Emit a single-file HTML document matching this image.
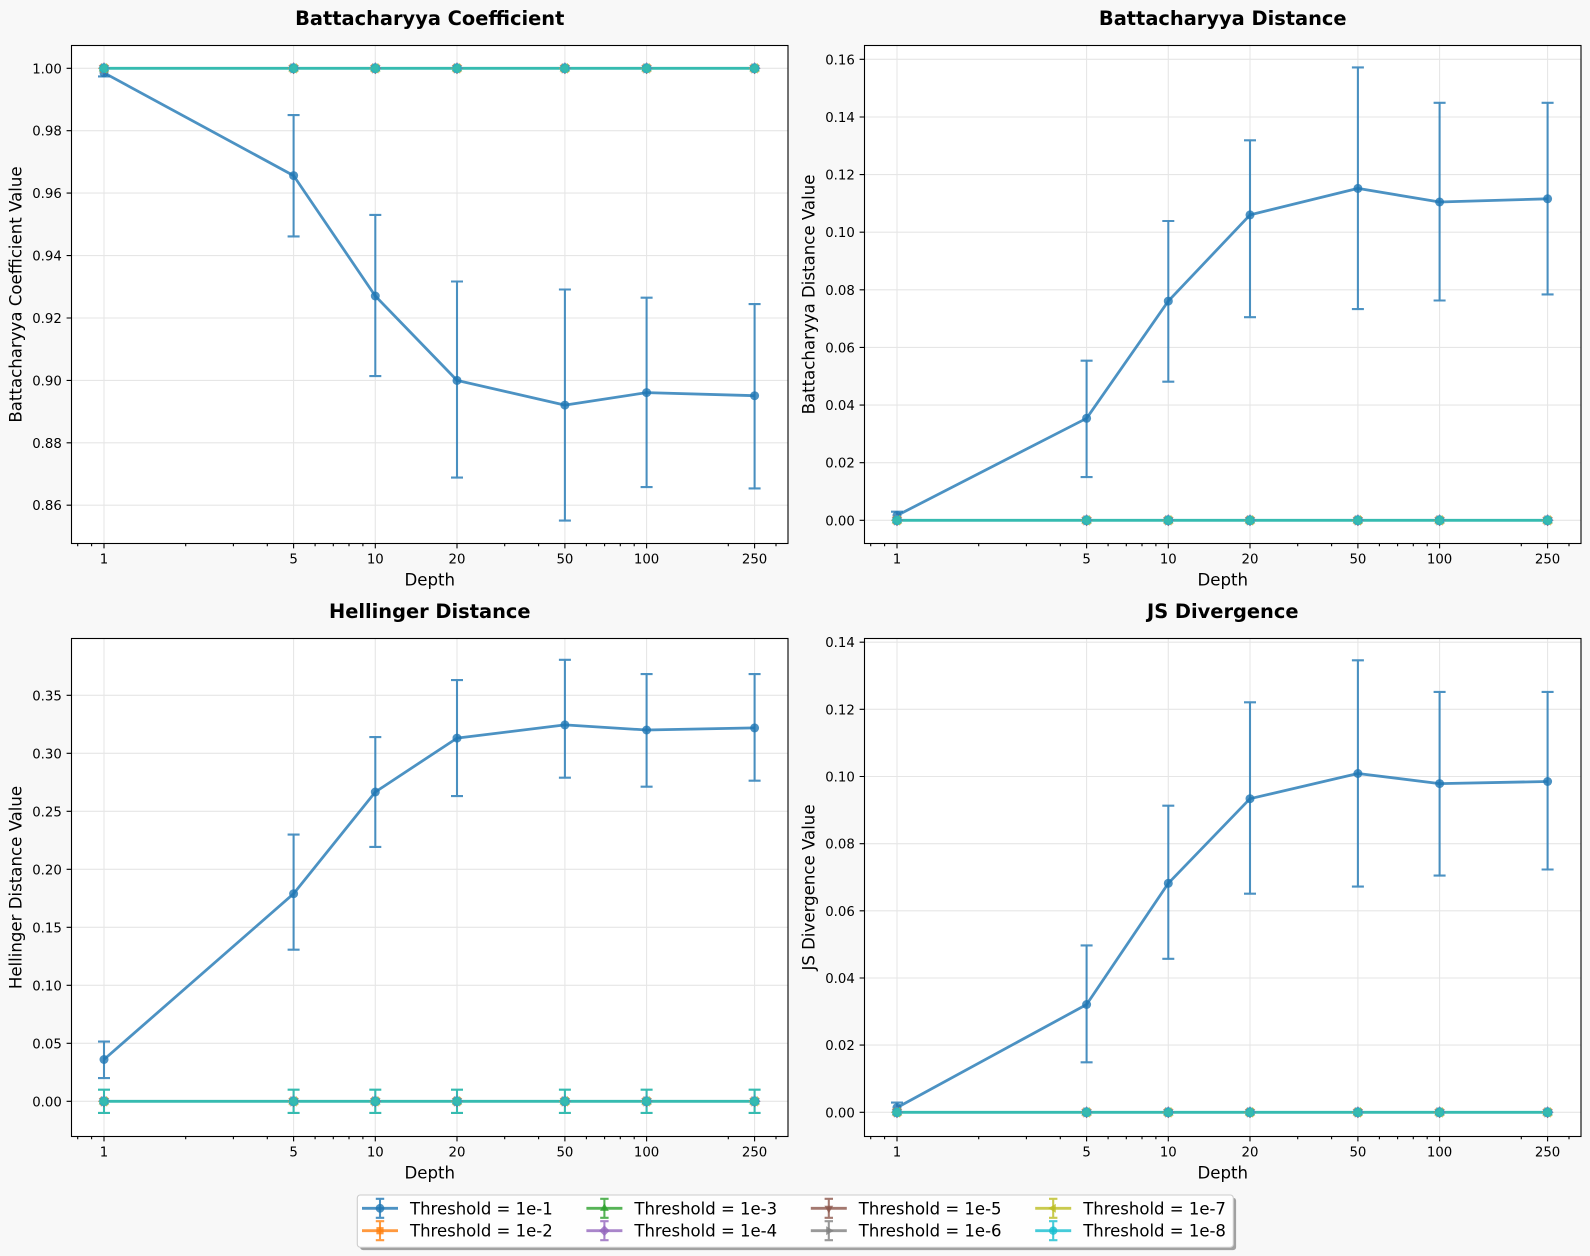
<!DOCTYPE html>
<html><head><meta charset="utf-8"><style>
html,body{margin:0;padding:0;background:#f8f8f8;}
svg{display:block;font-family:"DejaVu Sans","Liberation Sans",sans-serif;}
.grid{stroke:#e6e6e6;stroke-width:1.1;fill:none}
.eb{stroke:#1f77b4;stroke-opacity:.8;stroke-width:2.08;fill:none}
.bl{stroke:#1f77b4;stroke-opacity:.8;stroke-width:2.78;fill:none;stroke-linejoin:round}
.bm{fill:#1f77b4;opacity:.8}
.tl{stroke:#36bbb0;stroke-width:2.78;fill:none}
.teb{stroke:#36bbb0;stroke-width:2.08;fill:none}
.tk{stroke:#000;stroke-width:1.1;fill:none}
.tt{font-size:13.3px;fill:#000}
.ttl{font-size:19.4px;font-weight:bold;fill:#000}
.lab{font-size:16.6px;fill:#000}
.lg{font-size:16.5px;fill:#000}
</style></head><body>
<svg width="1590" height="1256" viewBox="0 0 1590 1256" xmlns="http://www.w3.org/2000/svg">
<defs>
<g id="st">
  <rect x="-3.6" y="-3.6" width="7.2" height="7.2" fill="#ff7f0e" stroke="#ff7f0e" stroke-width="1" opacity=".8"/>
  <polygon points="0,-5 4.4,2.6 -4.4,2.6" fill="#2ca02c" stroke="#2ca02c" stroke-width="1" opacity=".8"/>
  <polygon points="0,-5.3 5.3,0 0,5.3 -5.3,0" fill="#9467bd" stroke="#9467bd" stroke-width="1" opacity=".8"/>
  <polygon points="0,5 4.4,-2.6 -4.4,-2.6" fill="#8c564b" stroke="#8c564b" stroke-width="1" opacity=".8"/>
  <polygon points="5,0 -2.6,4.4 -2.6,-4.4" fill="#7f7f7f" stroke="#7f7f7f" stroke-width="1" opacity=".8"/>
  <polygon points="-5,0 2.6,4.4 2.6,-4.4" fill="#bcbd22" stroke="#bcbd22" stroke-width="1" opacity=".8"/>
  <circle r="4.4" fill="#17becf" stroke="#17becf" stroke-width="1" opacity=".8"/>
</g>
<g id="vg">
  <path class="grid" d="M104 45.5V543.5M293.6 45.5V543.5M375.3 45.5V543.5M457 45.5V543.5M564.9 45.5V543.5M646.6 45.5V543.5M754.6 45.5V543.5"/>
</g>
<g id="xt">
  <path class="tk" d="M104 543.5v4.9M293.6 543.5v4.9M375.3 543.5v4.9M457 543.5v4.9M564.9 543.5v4.9M646.6 543.5v4.9M754.6 543.5v4.9"/>
  <path class="tk" d="M77.7 543.5v2.8M91.6 543.5v2.8M185.7 543.5v2.8M233.4 543.5v2.8M267.3 543.5v2.8M315.1 543.5v2.8M333.3 543.5v2.8M349 543.5v2.8M362.9 543.5v2.8M504.7 543.5v2.8M538.6 543.5v2.8M586.4 543.5v2.8M604.6 543.5v2.8M620.3 543.5v2.8M634.2 543.5v2.8M728.3 543.5v2.8M776 543.5v2.8"/>
</g>
</defs>

<rect x="0" y="0" width="1590" height="1256" fill="#f8f8f8"/>

<!-- Panel A: Battacharyya Coefficient -->
<g transform="translate(0,0)">
  <rect x="71.5" y="45.5" width="716.5" height="498" fill="#fff"/>
  <use href="#vg"/>
  <path class="grid" d="M71.5 68.3H788M71.5 130.7H788M71.5 193.1H788M71.5 255.6H788M71.5 318H788M71.5 380.4H788M71.5 442.8H788M71.5 505.2H788"/>
  <polyline class="bl" points="104,72.8 293.6,175.6 375.3,296 457,380.4 564.9,405.1 646.6,392.6 754.6,395.7"/>
  <path class="eb" d="M104 69.9V76.4M98 76.4H110"/>
  <path class="eb" d="M293.6 115.1V236.4M287.6 115.1H299.6M287.6 236.4H299.6"/>
  <path class="eb" d="M375.3 214.9V376.1M369.3 214.9H381.3M369.3 376.1H381.3"/>
  <path class="eb" d="M457 281.5V477.6M451 281.5H463M451 477.6H463"/>
  <path class="eb" d="M564.9 289.5V520.6M558.9 289.5H570.9M558.9 520.6H570.9"/>
  <path class="eb" d="M646.6 297.7V487.1M640.6 297.7H652.6M640.6 487.1H652.6"/>
  <path class="eb" d="M754.6 304.1V488.4M748.6 304.1H760.6M748.6 488.4H760.6"/>
  <circle class="bm" cx="104" cy="72.8" r="4.5"/><circle class="bm" cx="293.6" cy="175.6" r="4.5"/><circle class="bm" cx="375.3" cy="296" r="4.5"/><circle class="bm" cx="457" cy="380.4" r="4.5"/><circle class="bm" cx="564.9" cy="405.1" r="4.5"/><circle class="bm" cx="646.6" cy="392.6" r="4.5"/><circle class="bm" cx="754.6" cy="395.7" r="4.5"/>
  <line class="tl" x1="104" y1="68.3" x2="754.6" y2="68.3"/>
  <use href="#st" x="104" y="68.3"/><use href="#st" x="293.6" y="68.3"/><use href="#st" x="375.3" y="68.3"/><use href="#st" x="457" y="68.3"/><use href="#st" x="564.9" y="68.3"/><use href="#st" x="646.6" y="68.3"/><use href="#st" x="754.6" y="68.3"/>
  <rect x="71.5" y="45.5" width="716.5" height="498" fill="none" stroke="#000" stroke-width="1.1"/>
  <use href="#xt"/>
  <path class="tk" d="M66.6 68.3H71.5M66.6 130.7H71.5M66.6 193.1H71.5M66.6 255.6H71.5M66.6 318H71.5M66.6 380.4H71.5M66.6 442.8H71.5M66.6 505.2H71.5"/>
  <g class="tt" text-anchor="end">
    <text x="61.8" y="73.3">1.00</text><text x="61.8" y="135.7">0.98</text><text x="61.8" y="198.1">0.96</text><text x="61.8" y="260.6">0.94</text><text x="61.8" y="323">0.92</text><text x="61.8" y="385.4">0.90</text><text x="61.8" y="447.8">0.88</text><text x="61.8" y="510.2">0.86</text>
  </g>
  <g class="tt" text-anchor="middle">
    <text x="104" y="563.5">1</text><text x="293.6" y="563.5">5</text><text x="375.3" y="563.5">10</text><text x="457" y="563.5">20</text><text x="564.9" y="563.5">50</text><text x="646.6" y="563.5">100</text><text x="754.6" y="563.5">250</text>
  </g>
  <text class="ttl" x="429.75" y="25" text-anchor="middle">Battacharyya Coefficient</text>
  <text class="lab" x="429.75" y="585.5" text-anchor="middle">Depth</text>
  <text class="lab" transform="translate(21.5,294.5) rotate(-90)" text-anchor="middle">Battacharyya Coefficient Value</text>
</g>

<!-- Panel B: Battacharyya Distance -->
<g transform="translate(793,0)">
  <rect x="71.5" y="45.5" width="716.5" height="498" fill="#fff"/>
  <use href="#vg"/>
  <path class="grid" d="M71.5 520.3H788M71.5 462.7H788M71.5 405.1H788M71.5 347.4H788M71.5 289.8H788M71.5 232.2H788M71.5 174.6H788M71.5 117H788M71.5 59.3H788"/>
  <polyline class="bl" points="104,515.5 293.6,418.3 375.3,301.1 457,214.9 564.9,188.4 646.6,202 754.6,198.8"/>
  <path class="eb" d="M104 511.7V520.3M98 511.7H110"/>
  <path class="eb" d="M293.6 360.7V477.1M287.6 360.7H299.6M287.6 477.1H299.6"/>
  <path class="eb" d="M375.3 221V381.7M369.3 221H381.3M369.3 381.7H381.3"/>
  <path class="eb" d="M457 140.3V317.2M451 140.3H463M451 317.2H463"/>
  <path class="eb" d="M564.9 67.4V309.1M558.9 67.4H570.9M558.9 309.1H570.9"/>
  <path class="eb" d="M646.6 102.8V300.5M640.6 102.8H652.6M640.6 300.5H652.6"/>
  <path class="eb" d="M754.6 102.8V294.4M748.6 102.8H760.6M748.6 294.4H760.6"/>
  <circle class="bm" cx="104" cy="515.5" r="4.5"/><circle class="bm" cx="293.6" cy="418.3" r="4.5"/><circle class="bm" cx="375.3" cy="301.1" r="4.5"/><circle class="bm" cx="457" cy="214.9" r="4.5"/><circle class="bm" cx="564.9" cy="188.4" r="4.5"/><circle class="bm" cx="646.6" cy="202" r="4.5"/><circle class="bm" cx="754.6" cy="198.8" r="4.5"/>
  <line class="tl" x1="104" y1="520.3" x2="754.6" y2="520.3"/>
  <use href="#st" x="104" y="520.3"/><use href="#st" x="293.6" y="520.3"/><use href="#st" x="375.3" y="520.3"/><use href="#st" x="457" y="520.3"/><use href="#st" x="564.9" y="520.3"/><use href="#st" x="646.6" y="520.3"/><use href="#st" x="754.6" y="520.3"/>
  <rect x="71.5" y="45.5" width="716.5" height="498" fill="none" stroke="#000" stroke-width="1.1"/>
  <use href="#xt"/>
  <path class="tk" d="M66.6 520.3H71.5M66.6 462.7H71.5M66.6 405.1H71.5M66.6 347.4H71.5M66.6 289.8H71.5M66.6 232.2H71.5M66.6 174.6H71.5M66.6 117H71.5M66.6 59.3H71.5"/>
  <g class="tt" text-anchor="end">
    <text x="61.8" y="525.3">0.00</text><text x="61.8" y="467.7">0.02</text><text x="61.8" y="410.1">0.04</text><text x="61.8" y="352.4">0.06</text><text x="61.8" y="294.8">0.08</text><text x="61.8" y="237.2">0.10</text><text x="61.8" y="179.6">0.12</text><text x="61.8" y="122">0.14</text><text x="61.8" y="64.3">0.16</text>
  </g>
  <g class="tt" text-anchor="middle">
    <text x="104" y="563.5">1</text><text x="293.6" y="563.5">5</text><text x="375.3" y="563.5">10</text><text x="457" y="563.5">20</text><text x="564.9" y="563.5">50</text><text x="646.6" y="563.5">100</text><text x="754.6" y="563.5">250</text>
  </g>
  <text class="ttl" x="429.75" y="25" text-anchor="middle">Battacharyya Distance</text>
  <text class="lab" x="429.75" y="585.5" text-anchor="middle">Depth</text>
  <text class="lab" transform="translate(21.5,294.5) rotate(-90)" text-anchor="middle">Battacharyya Distance Value</text>
</g>

<!-- Panel C: Hellinger Distance -->
<g transform="translate(0,593)">
  <rect x="71.5" y="45.5" width="716.5" height="498" fill="#fff"/>
  <use href="#vg"/>
  <path class="grid" d="M71.5 508.3H788M71.5 450.3H788M71.5 392.3H788M71.5 334.3H788M71.5 276.3H788M71.5 218.3H788M71.5 160.3H788M71.5 102.3H788"/>
  <polyline class="bl" points="104,466.5 293.6,300.7 375.3,199 457,145.1 564.9,131.9 646.6,137 754.6,134.9"/>
  <path class="eb" d="M104 448.6V485.1M98 448.6H110M98 485.1H110"/>
  <path class="eb" d="M293.6 241.6V356.7M287.6 241.6H299.6M287.6 356.7H299.6"/>
  <path class="eb" d="M375.3 144.1V253.9M369.3 144.1H381.3M369.3 253.9H381.3"/>
  <path class="eb" d="M457 87.1V203.1M451 87.1H463M451 203.1H463"/>
  <path class="eb" d="M564.9 66.8V184.7M558.9 66.8H570.9M558.9 184.7H570.9"/>
  <path class="eb" d="M646.6 81.1V193.7M640.6 81.1H652.6M640.6 193.7H652.6"/>
  <path class="eb" d="M754.6 81.1V187.7M748.6 81.1H760.6M748.6 187.7H760.6"/>
  <circle class="bm" cx="104" cy="466.5" r="4.5"/><circle class="bm" cx="293.6" cy="300.7" r="4.5"/><circle class="bm" cx="375.3" cy="199" r="4.5"/><circle class="bm" cx="457" cy="145.1" r="4.5"/><circle class="bm" cx="564.9" cy="131.9" r="4.5"/><circle class="bm" cx="646.6" cy="137" r="4.5"/><circle class="bm" cx="754.6" cy="134.9" r="4.5"/>
  <path class="teb" d="M104 496.7V519.9M98 496.7H110M98 519.9H110M293.6 496.7V519.9M287.6 496.7H299.6M287.6 519.9H299.6M375.3 496.7V519.9M369.3 496.7H381.3M369.3 519.9H381.3M457 496.7V519.9M451 496.7H463M451 519.9H463M564.9 496.7V519.9M558.9 496.7H570.9M558.9 519.9H570.9M646.6 496.7V519.9M640.6 496.7H652.6M640.6 519.9H652.6M754.6 496.7V519.9M748.6 496.7H760.6M748.6 519.9H760.6"/>
  <line class="tl" x1="104" y1="508.3" x2="754.6" y2="508.3"/>
  <use href="#st" x="104" y="508.3"/><use href="#st" x="293.6" y="508.3"/><use href="#st" x="375.3" y="508.3"/><use href="#st" x="457" y="508.3"/><use href="#st" x="564.9" y="508.3"/><use href="#st" x="646.6" y="508.3"/><use href="#st" x="754.6" y="508.3"/>
  <rect x="71.5" y="45.5" width="716.5" height="498" fill="none" stroke="#000" stroke-width="1.1"/>
  <use href="#xt"/>
  <path class="tk" d="M66.6 508.3H71.5M66.6 450.3H71.5M66.6 392.3H71.5M66.6 334.3H71.5M66.6 276.3H71.5M66.6 218.3H71.5M66.6 160.3H71.5M66.6 102.3H71.5"/>
  <g class="tt" text-anchor="end">
    <text x="61.8" y="513.3">0.00</text><text x="61.8" y="455.3">0.05</text><text x="61.8" y="397.3">0.10</text><text x="61.8" y="339.3">0.15</text><text x="61.8" y="281.3">0.20</text><text x="61.8" y="223.3">0.25</text><text x="61.8" y="165.3">0.30</text><text x="61.8" y="107.3">0.35</text>
  </g>
  <g class="tt" text-anchor="middle">
    <text x="104" y="563.5">1</text><text x="293.6" y="563.5">5</text><text x="375.3" y="563.5">10</text><text x="457" y="563.5">20</text><text x="564.9" y="563.5">50</text><text x="646.6" y="563.5">100</text><text x="754.6" y="563.5">250</text>
  </g>
  <text class="ttl" x="429.75" y="25" text-anchor="middle">Hellinger Distance</text>
  <text class="lab" x="429.75" y="585.5" text-anchor="middle">Depth</text>
  <text class="lab" transform="translate(21.5,294.5) rotate(-90)" text-anchor="middle">Hellinger Distance Value</text>
</g>

<!-- Panel D: JS Divergence -->
<g transform="translate(793,593)">
  <rect x="71.5" y="45.5" width="716.5" height="498" fill="#fff"/>
  <use href="#vg"/>
  <path class="grid" d="M71.5 519.3H788M71.5 452.1H788M71.5 385H788M71.5 317.8H788M71.5 250.7H788M71.5 183.5H788M71.5 116.3H788M71.5 49.2H788"/>
  <polyline class="bl" points="104,514.6 293.6,411.5 375.3,290.3 457,205.7 564.9,180.5 646.6,190.6 754.6,188.5"/>
  <path class="eb" d="M104 509.6V519.3M98 509.6H110"/>
  <path class="eb" d="M293.6 352.4V469.3M287.6 352.4H299.6M287.6 469.3H299.6"/>
  <path class="eb" d="M375.3 212.7V365.8M369.3 212.7H381.3M369.3 365.8H381.3"/>
  <path class="eb" d="M457 109.3V300.7M451 109.3H463M451 300.7H463"/>
  <path class="eb" d="M564.9 67.3V293.6M558.9 67.3H570.9M558.9 293.6H570.9"/>
  <path class="eb" d="M646.6 98.9V282.6M640.6 98.9H652.6M640.6 282.6H652.6"/>
  <path class="eb" d="M754.6 98.9V276.5M748.6 98.9H760.6M748.6 276.5H760.6"/>
  <circle class="bm" cx="104" cy="514.6" r="4.5"/><circle class="bm" cx="293.6" cy="411.5" r="4.5"/><circle class="bm" cx="375.3" cy="290.3" r="4.5"/><circle class="bm" cx="457" cy="205.7" r="4.5"/><circle class="bm" cx="564.9" cy="180.5" r="4.5"/><circle class="bm" cx="646.6" cy="190.6" r="4.5"/><circle class="bm" cx="754.6" cy="188.5" r="4.5"/>
  <line class="tl" x1="104" y1="519.3" x2="754.6" y2="519.3"/>
  <use href="#st" x="104" y="519.3"/><use href="#st" x="293.6" y="519.3"/><use href="#st" x="375.3" y="519.3"/><use href="#st" x="457" y="519.3"/><use href="#st" x="564.9" y="519.3"/><use href="#st" x="646.6" y="519.3"/><use href="#st" x="754.6" y="519.3"/>
  <rect x="71.5" y="45.5" width="716.5" height="498" fill="none" stroke="#000" stroke-width="1.1"/>
  <use href="#xt"/>
  <path class="tk" d="M66.6 519.3H71.5M66.6 452.1H71.5M66.6 385H71.5M66.6 317.8H71.5M66.6 250.7H71.5M66.6 183.5H71.5M66.6 116.3H71.5M66.6 49.2H71.5"/>
  <g class="tt" text-anchor="end">
    <text x="61.8" y="524.3">0.00</text><text x="61.8" y="457.1">0.02</text><text x="61.8" y="390">0.04</text><text x="61.8" y="322.8">0.06</text><text x="61.8" y="255.7">0.08</text><text x="61.8" y="188.5">0.10</text><text x="61.8" y="121.3">0.12</text><text x="61.8" y="54.2">0.14</text>
  </g>
  <g class="tt" text-anchor="middle">
    <text x="104" y="563.5">1</text><text x="293.6" y="563.5">5</text><text x="375.3" y="563.5">10</text><text x="457" y="563.5">20</text><text x="564.9" y="563.5">50</text><text x="646.6" y="563.5">100</text><text x="754.6" y="563.5">250</text>
  </g>
  <text class="ttl" x="429.75" y="25" text-anchor="middle">JS Divergence</text>
  <text class="lab" x="429.75" y="585.5" text-anchor="middle">Depth</text>
  <text class="lab" transform="translate(21.5,294.5) rotate(-90)" text-anchor="middle">JS Divergence Value</text>
</g>

<!-- Legend -->
<rect x="360.1" y="1197.8" width="876" height="52.3" rx="3" fill="#000" fill-opacity=".35"/>
<rect x="357.3" y="1195" width="876" height="52.3" rx="3" fill="#fefefe" stroke="#cccccc" stroke-width="1.1"/>
<!-- col1 -->
<g>
  <path d="M362 1208.3H398" stroke="#1f77b4" stroke-opacity=".8" stroke-width="2.78"/>
  <path d="M380 1198.8V1217.8M375.8 1198.8H384.2M375.8 1217.8H384.2" stroke="#1f77b4" stroke-opacity=".8" stroke-width="2.08" fill="none"/>
  <circle cx="380" cy="1208.3" r="4.4" fill="#1f77b4" opacity=".8"/>
  <text class="lg" x="410" y="1214.3">Threshold = 1e-1</text>
  <path d="M362 1230.7H398" stroke="#ff7f0e" stroke-opacity=".8" stroke-width="2.78"/>
  <path d="M380 1221.2V1240.2M375.8 1221.2H384.2M375.8 1240.2H384.2" stroke="#ff7f0e" stroke-opacity=".8" stroke-width="2.08" fill="none"/>
  <rect x="376.4" y="1227.1" width="7.2" height="7.2" fill="#ff7f0e" opacity=".8"/>
  <text class="lg" x="410" y="1236.7">Threshold = 1e-2</text>
</g>
<!-- col2 -->
<g>
  <path d="M586.4 1208.3H622.4" stroke="#2ca02c" stroke-opacity=".8" stroke-width="2.78"/>
  <path d="M604.4 1198.8V1217.8M600.2 1198.8H608.6M600.2 1217.8H608.6" stroke="#2ca02c" stroke-opacity=".8" stroke-width="2.08" fill="none"/>
  <polygon points="604.4,1203.3 608.8,1210.9 600,1210.9" fill="#2ca02c" opacity=".8"/>
  <text class="lg" x="634.4" y="1214.3">Threshold = 1e-3</text>
  <path d="M586.4 1230.7H622.4" stroke="#9467bd" stroke-opacity=".8" stroke-width="2.78"/>
  <path d="M604.4 1221.2V1240.2M600.2 1221.2H608.6M600.2 1240.2H608.6" stroke="#9467bd" stroke-opacity=".8" stroke-width="2.08" fill="none"/>
  <polygon points="604.4,1225.4 609.7,1230.7 604.4,1236 599.1,1230.7" fill="#9467bd" opacity=".8"/>
  <text class="lg" x="634.4" y="1236.7">Threshold = 1e-4</text>
</g>
<!-- col3 -->
<g>
  <path d="M810.8 1208.3H846.8" stroke="#8c564b" stroke-opacity=".8" stroke-width="2.78"/>
  <path d="M828.8 1198.8V1217.8M824.6 1198.8H833M824.6 1217.8H833" stroke="#8c564b" stroke-opacity=".8" stroke-width="2.08" fill="none"/>
  <polygon points="828.8,1213.3 833.2,1205.7 824.4,1205.7" fill="#8c564b" opacity=".8"/>
  <text class="lg" x="858.8" y="1214.3">Threshold = 1e-5</text>
  <path d="M810.8 1230.7H846.8" stroke="#7f7f7f" stroke-opacity=".8" stroke-width="2.78"/>
  <path d="M828.8 1221.2V1240.2M824.6 1221.2H833M824.6 1240.2H833" stroke="#7f7f7f" stroke-opacity=".8" stroke-width="2.08" fill="none"/>
  <polygon points="833.8,1230.7 826.2,1235.1 826.2,1226.3" fill="#7f7f7f" opacity=".8"/>
  <text class="lg" x="858.8" y="1236.7">Threshold = 1e-6</text>
</g>
<!-- col4 -->
<g>
  <path d="M1035.2 1208.3H1071.2" stroke="#bcbd22" stroke-opacity=".8" stroke-width="2.78"/>
  <path d="M1053.2 1198.8V1217.8M1049 1198.8H1057.4M1049 1217.8H1057.4" stroke="#bcbd22" stroke-opacity=".8" stroke-width="2.08" fill="none"/>
  <polygon points="1048.2,1208.3 1055.8,1212.7 1055.8,1203.9" fill="#bcbd22" opacity=".8"/>
  <text class="lg" x="1083.2" y="1214.3">Threshold = 1e-7</text>
  <path d="M1035.2 1230.7H1071.2" stroke="#17becf" stroke-opacity=".8" stroke-width="2.78"/>
  <path d="M1053.2 1221.2V1240.2M1049 1221.2H1057.4M1049 1240.2H1057.4" stroke="#17becf" stroke-opacity=".8" stroke-width="2.08" fill="none"/>
  <circle cx="1053.2" cy="1230.7" r="4.2" fill="#17becf" opacity=".8"/>
  <text class="lg" x="1083.2" y="1236.7">Threshold = 1e-8</text>
</g>
</svg>
</body></html>
